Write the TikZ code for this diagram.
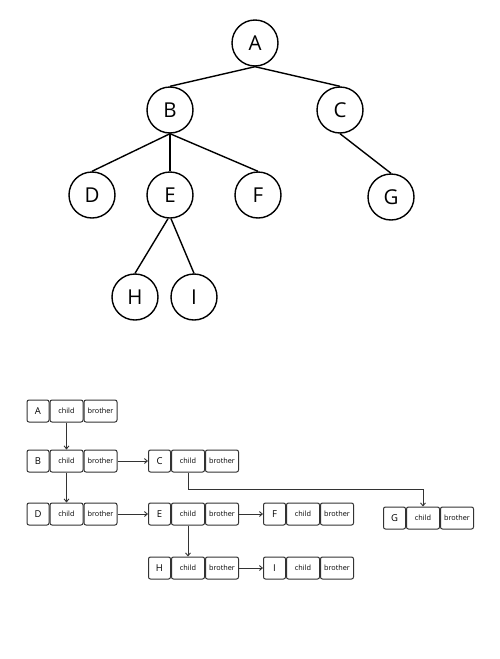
\documentclass[tikz,border=0pt]{standalone}
\usepackage{fontspec}
\setmainfont{Open Sans}
\usetikzlibrary{arrows.meta}
\begin{document}
\begin{tikzpicture}[x=1pt,y=-1pt,
  tn/.style={circle,draw=black,line width=1.4pt,minimum size=46pt,inner sep=0pt,font=\fontsize{20.5}{20.5}\selectfont},
  tl/.style={line width=1.4pt},
  bx/.style={draw=black!80,line width=1pt,rounded corners=2pt,minimum height=22pt,inner sep=0pt,anchor=center},
  nm/.style={bx,minimum width=22pt,font=\fontsize{9.5}{9.5}\selectfont},
  cd/.style={bx,minimum width=33pt,font=\fontsize{7.3}{7.3}\selectfont},
  br/.style={bx,minimum width=33pt,font=\fontsize{7.3}{7.3}\selectfont},
  ar/.style={draw=black!80,line width=0.9pt,-{Straight Barb[length=3pt,width=5pt]}}
]
\useasboundingbox (0,0) rectangle (500,659);
% tree
\node[tn] (A) at (255,43) {A};
\node[tn] (B) at (170,110) {B};
\node[tn] (C) at (340,110) {C};
\node[tn] (D) at (92,195) {D};
\node[tn] (E) at (170,195) {E};
\node[tn] (F) at (258,195) {F};
\node[tn] (G) at (391,197) {G};
\node[tn] (H) at (135,297) {H};
\node[tn] (I) at (194,297) {I};
\draw[tl] (A.south) -- (B.north);
\draw[tl] (A.south) -- (C.north);
\draw[tl] (B.south) -- (D.north);
\draw[tl] (B.south) -- (E.north);
\draw[tl] (B.south) -- (F.north);
\draw[tl] (C.south) -- (G.north);
\draw[tl] ([xshift=-2pt]E.south) -- (H.north);
\draw[tl] ([xshift=1pt]E.south) -- (I.north);
% lists
\newcommand{\rec}[4]{%
  \node[nm] (#1n) at (#2,#3) {#4};
  \node[cd] (#1c) at (#2+28.5,#3) {child};
  \node[br] (#1b) at (#2+62.5,#3) {brother};}
\rec{a}{38}{411}{A}
\rec{b}{38}{461}{B}
\rec{c}{159.5}{461}{C}
\rec{d}{38}{514}{D}
\rec{e}{159.5}{514}{E}
\rec{f}{274.5}{514}{F}
\rec{g}{394.5}{518}{G}
\rec{h}{159.5}{568}{H}
\rec{i}{274.5}{568}{I}
\draw[ar] (ac.south) -- (bc.north);
\draw[ar] (bc.south) -- (dc.north);
\draw[ar] (ec.south) -- (hc.north);
\draw[ar] (bb.east) -- (cn.west);
\draw[ar] (db.east) -- (en.west);
\draw[ar] (eb.east) -- (fn.west);
\draw[ar] (hb.east) -- (in.west);
\coordinate (turn) at (188,489);
\draw[ar] (cc.south) -- (turn) -| (gc.north);
\end{tikzpicture}
\end{document}
